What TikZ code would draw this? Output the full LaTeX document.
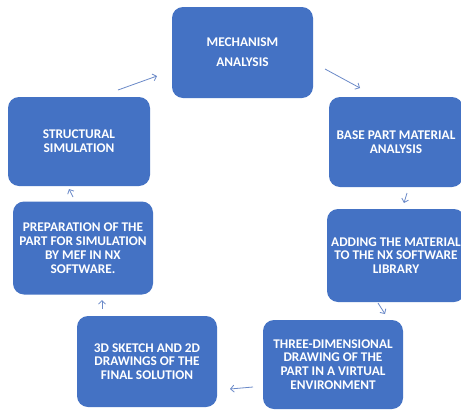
\documentclass[tikz,border=0pt]{standalone}
\usepackage{fontspec}
\setmainfont{Carlito}
\usetikzlibrary{arrows.meta}
\definecolor{boxblue}{HTML}{4472C4}
\definecolor{arrowblue}{HTML}{6A89C8}
\tikzset{
  stage/.style={draw=none, fill=boxblue, rounded corners=11pt, text=white,
    font=\bfseries\fontsize{13.3}{13.8}\selectfont, align=center, inner sep=0pt},
  flow/.style={draw=arrowblue, line width=0.8pt, -{Straight Barb[length=3.5pt,width=7pt]}}
}
\begin{document}
\begin{tikzpicture}[x=1pt,y=-1pt]
\useasboundingbox (0,0) rectangle (461,410);
\clip (0,0) rectangle (461,410);
\fill[white] (0,0) rectangle (461,410);
\node[stage, minimum width=141pt, minimum height=91pt] (mech) at (242.5,52.5) {MECHANISM\\[6pt]ANALYSIS};
\node[stage, minimum width=142pt, minimum height=89pt] (struct) at (79,141.5) {STRUCTURAL\\SIMULATION};
\node[stage, minimum width=134pt, minimum height=90pt] (base) at (396,142) {BASE PART MATERIAL\\ANALYSIS};
\node[stage, minimum width=138pt, minimum height=93pt] (add) at (396,255.5) {ADDING THE MATERIAL\\TO THE NX SOFTWARE\\LIBRARY};
\node[stage, minimum width=140pt, minimum height=93pt] (prep) at (83,248) {PREPARATION OF THE\\PART FOR SIMULATION\\BY MEF IN NX\\SOFTWARE.};
\node[stage, minimum width=140pt, minimum height=91pt] (sketch) at (147,361.5) {3D SKETCH AND 2D\\DRAWINGS OF THE\\FINAL SOLUTION};
\node[stage, minimum width=140pt, minimum height=89pt] (three) at (333,364.5) {THREE-DIMENSIONAL\\DRAWING OF THE\\PART IN A VIRTUAL\\ENVIRONMENT};
\coordinate (a1s) at (118,90); \coordinate (a1e) at (157,76);
\coordinate (a2s) at (325,69); \coordinate (a2e) at (360,88);
\coordinate (a3s) at (407,193); \coordinate (a3e) at (404,203);
\coordinate (a4s) at (378,303); \coordinate (a4e) at (385,314);
\coordinate (a5s) at (253,387); \coordinate (a5e) at (230,389);
\coordinate (a6s) at (102,309); \coordinate (a6e) at (102,300);
\coordinate (a7s) at (73,197); \coordinate (a7e) at (69,189);
\draw[flow] (a1s) -- (a1e);
\draw[flow] (a2s) -- (a2e);
\draw[flow] (a3s) -- (a3e);
\draw[flow] (a4s) -- (a4e);
\draw[flow] (a5s) -- (a5e);
\draw[flow] (a6s) -- (a6e);
\draw[flow] (a7s) -- (a7e);
\end{tikzpicture}
\end{document}
